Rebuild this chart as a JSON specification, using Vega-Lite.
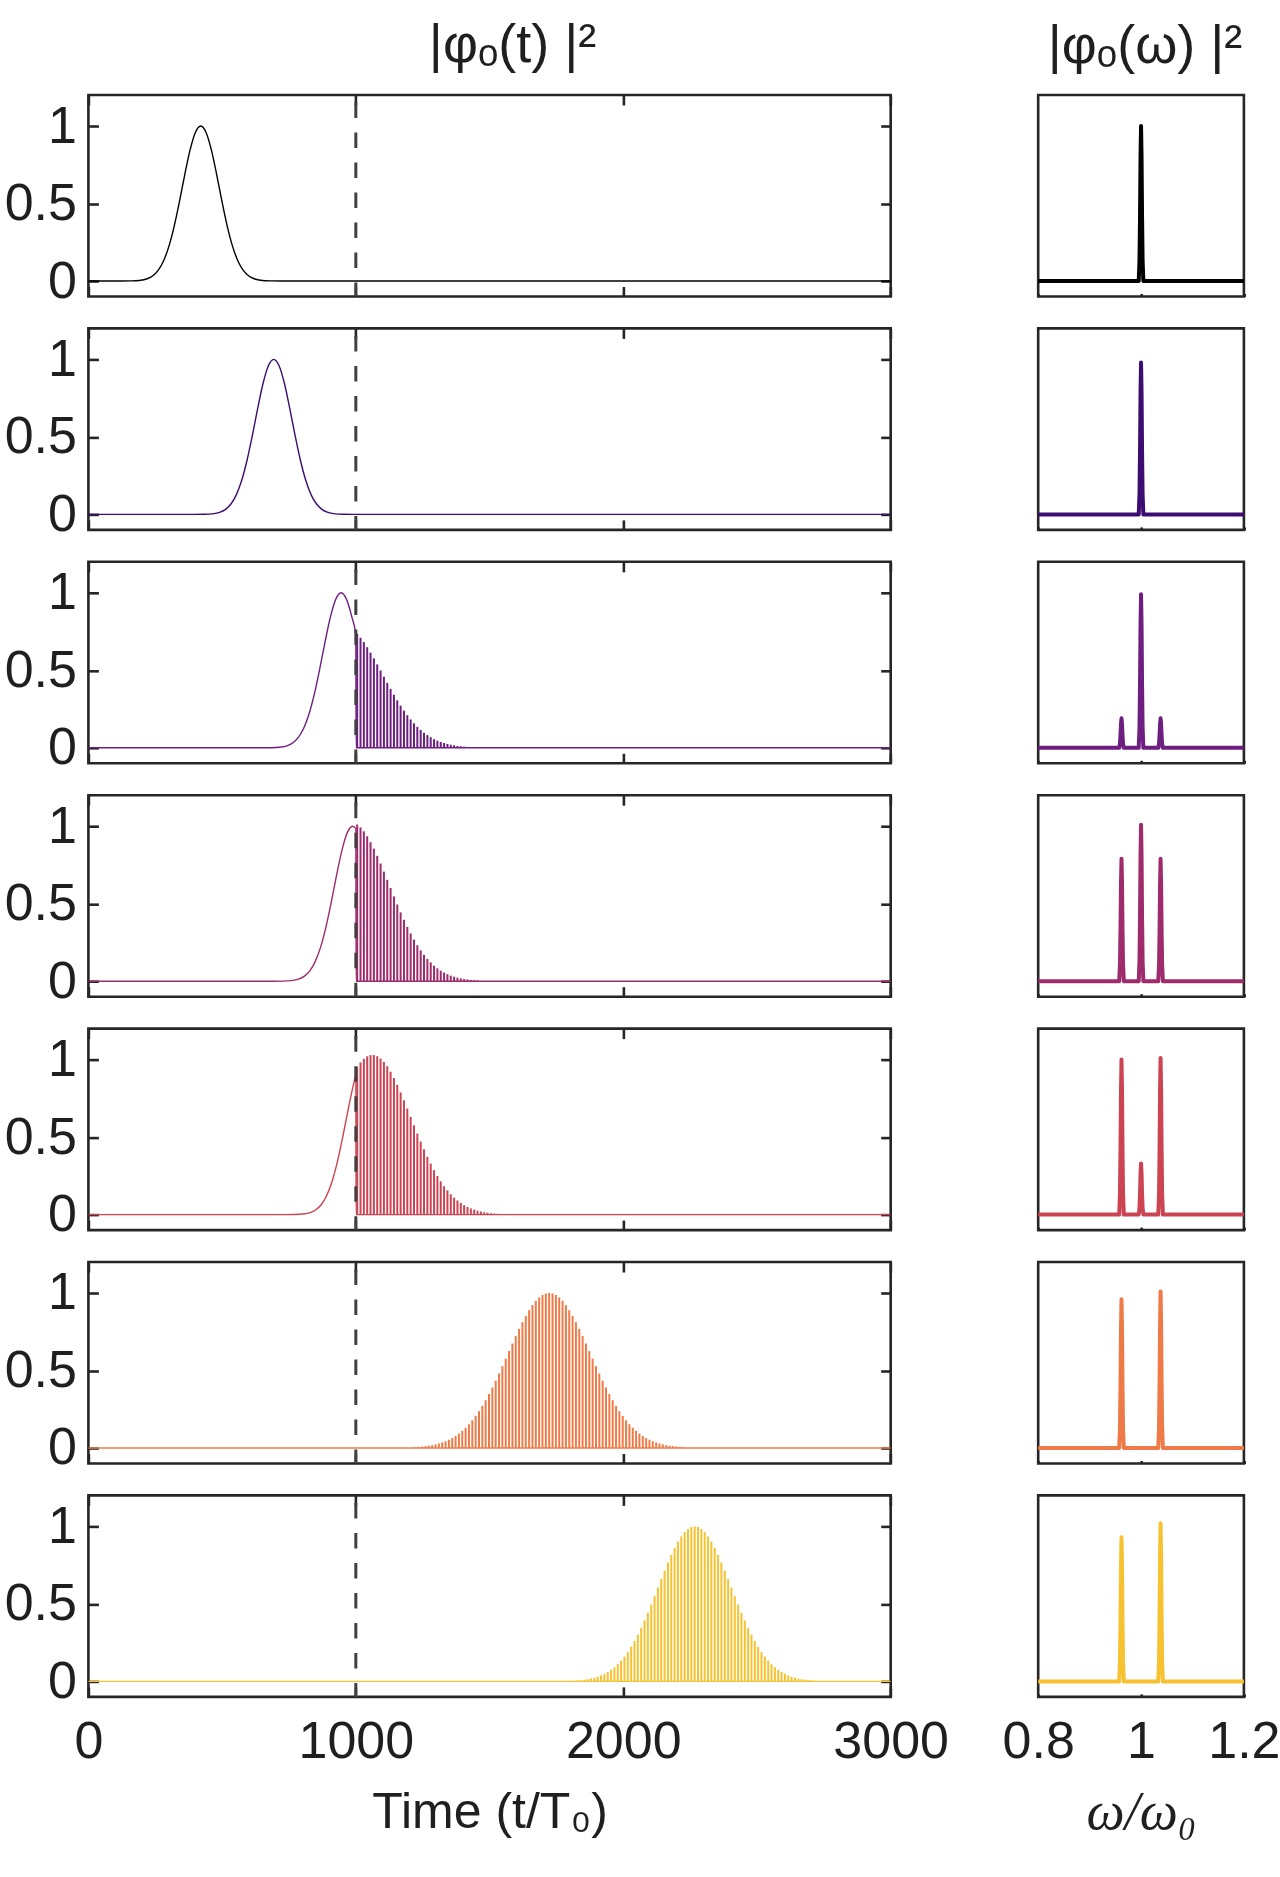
{
  "$schema": "https://vega.github.io/schema/vega-lite/v6.json",
  "background": "white",
  "padding": {"left": 2.4, "top": 17, "right": 0, "bottom": 0},
  "datasets": {
    "time": [
      {"p":1,"t":0,"y":0},{"p":1,"t":120,"y":0},{"p":1,"t":160,"y":0.0008},{"p":1,"t":190,"y":0.0037},{"p":1,"t":220,"y":0.0146},{"p":1,"t":240,"y":0.0326},{"p":1,"t":260,"y":0.0669},{"p":1,"t":280,"y":0.1261},{"p":1,"t":300,"y":0.2184},{"p":1,"t":320,"y":0.3477},{"p":1,"t":340,"y":0.5086},{"p":1,"t":360,"y":0.6837},{"p":1,"t":380,"y":0.8445},{"p":1,"t":400,"y":0.9586},{"p":1,"t":420,"y":1},{"p":1,"t":440,"y":0.9586},{"p":1,"t":460,"y":0.8445},{"p":1,"t":480,"y":0.6837},{"p":1,"t":500,"y":0.5086},{"p":1,"t":520,"y":0.3477},{"p":1,"t":540,"y":0.2184},{"p":1,"t":560,"y":0.1261},{"p":1,"t":580,"y":0.0669},{"p":1,"t":600,"y":0.0326},{"p":1,"t":620,"y":0.0146},{"p":1,"t":650,"y":0.0037},{"p":1,"t":680,"y":0.0008},{"p":1,"t":720,"y":0},{"p":1,"t":3000,"y":0},
      {"p":2,"t":0,"y":0},{"p":2,"t":393,"y":0},{"p":2,"t":433,"y":0.0008},{"p":2,"t":463,"y":0.0037},{"p":2,"t":493,"y":0.0146},{"p":2,"t":513,"y":0.0326},{"p":2,"t":533,"y":0.0669},{"p":2,"t":553,"y":0.1261},{"p":2,"t":573,"y":0.2184},{"p":2,"t":593,"y":0.3477},{"p":2,"t":613,"y":0.5086},{"p":2,"t":633,"y":0.6837},{"p":2,"t":653,"y":0.8445},{"p":2,"t":673,"y":0.9586},{"p":2,"t":693,"y":1},{"p":2,"t":713,"y":0.9586},{"p":2,"t":733,"y":0.8445},{"p":2,"t":753,"y":0.6837},{"p":2,"t":773,"y":0.5086},{"p":2,"t":793,"y":0.3477},{"p":2,"t":813,"y":0.2184},{"p":2,"t":833,"y":0.1261},{"p":2,"t":853,"y":0.0669},{"p":2,"t":873,"y":0.0326},{"p":2,"t":893,"y":0.0146},{"p":2,"t":923,"y":0.0037},{"p":2,"t":953,"y":0.0008},{"p":2,"t":993,"y":0},{"p":2,"t":3000,"y":0},
      {"p":3,"t":0,"y":0},{"p":3,"t":645,"y":0},{"p":3,"t":685,"y":0.0008},{"p":3,"t":715,"y":0.0037},{"p":3,"t":745,"y":0.0146},{"p":3,"t":765,"y":0.0326},{"p":3,"t":785,"y":0.0669},{"p":3,"t":805,"y":0.1261},{"p":3,"t":825,"y":0.2184},{"p":3,"t":845,"y":0.3477},{"p":3,"t":865,"y":0.5086},{"p":3,"t":885,"y":0.6837},{"p":3,"t":905,"y":0.8445},{"p":3,"t":925,"y":0.9586},{"p":3,"t":945,"y":1},{"p":3,"t":965,"y":0.9586},{"p":3,"t":985,"y":0.8445},{"p":3,"t":1000,"y":0.7265},{"p":3,"t":1001,"y":0},{"p":3,"t":3000,"y":0},
      {"p":4,"t":0,"y":0},{"p":4,"t":688,"y":0},{"p":4,"t":728,"y":0.0008},{"p":4,"t":758,"y":0.0037},{"p":4,"t":788,"y":0.0146},{"p":4,"t":808,"y":0.0326},{"p":4,"t":828,"y":0.0669},{"p":4,"t":848,"y":0.1261},{"p":4,"t":868,"y":0.2184},{"p":4,"t":888,"y":0.3477},{"p":4,"t":908,"y":0.5086},{"p":4,"t":928,"y":0.6837},{"p":4,"t":948,"y":0.8445},{"p":4,"t":968,"y":0.9586},{"p":4,"t":988,"y":1},{"p":4,"t":1000,"y":0.985},{"p":4,"t":1001,"y":0},{"p":4,"t":3000,"y":0},
      {"p":5,"t":0,"y":0},{"p":5,"t":732,"y":0},{"p":5,"t":772,"y":0.0008},{"p":5,"t":802,"y":0.0037},{"p":5,"t":832,"y":0.0146},{"p":5,"t":852,"y":0.0326},{"p":5,"t":872,"y":0.0669},{"p":5,"t":892,"y":0.1261},{"p":5,"t":912,"y":0.2184},{"p":5,"t":932,"y":0.3477},{"p":5,"t":952,"y":0.5086},{"p":5,"t":972,"y":0.6837},{"p":5,"t":992,"y":0.8445},{"p":5,"t":1000,"y":0.8974},{"p":5,"t":1001,"y":0},{"p":5,"t":3000,"y":0},
      {"p":6,"t":0,"y":0},{"p":6,"t":3000,"y":0},
      {"p":7,"t":0,"y":0},{"p":7,"t":3000,"y":0}
    ],
    "osc": [
      {"p":3,"t":1005,"y":0.735},{"p":3,"t":1017.5,"y":0.71},{"p":3,"t":1030,"y":0.682},{"p":3,"t":1042.5,"y":0.649},{"p":3,"t":1055,"y":0.614},{"p":3,"t":1067.5,"y":0.577},{"p":3,"t":1080,"y":0.538},{"p":3,"t":1092.5,"y":0.499},{"p":3,"t":1105,"y":0.459},{"p":3,"t":1117.5,"y":0.419},{"p":3,"t":1130,"y":0.38},{"p":3,"t":1142.5,"y":0.342},{"p":3,"t":1155,"y":0.306},{"p":3,"t":1167.5,"y":0.272},{"p":3,"t":1180,"y":0.24},{"p":3,"t":1192.5,"y":0.21},{"p":3,"t":1205,"y":0.183},{"p":3,"t":1217.5,"y":0.158},{"p":3,"t":1230,"y":0.135},{"p":3,"t":1242.5,"y":0.115},{"p":3,"t":1255,"y":0.097},{"p":3,"t":1267.5,"y":0.082},{"p":3,"t":1280,"y":0.068},{"p":3,"t":1292.5,"y":0.056},{"p":3,"t":1305,"y":0.046},{"p":3,"t":1317.5,"y":0.038},{"p":3,"t":1330,"y":0.031},{"p":3,"t":1342.5,"y":0.025},{"p":3,"t":1355,"y":0.02},{"p":3,"t":1367.5,"y":0.016},{"p":3,"t":1380,"y":0.012},{"p":3,"t":1392.5,"y":0.0097},{"p":3,"t":1405,"y":0.0075},{"p":3,"t":1417.5,"y":0.0058},{"p":3,"t":1430,"y":0.0045},
      {"p":4,"t":1005,"y":1.011},{"p":4,"t":1017.5,"y":0.992},{"p":4,"t":1030,"y":0.967},{"p":4,"t":1042.5,"y":0.935},{"p":4,"t":1055,"y":0.897},{"p":4,"t":1067.5,"y":0.855},{"p":4,"t":1080,"y":0.809},{"p":4,"t":1092.5,"y":0.759},{"p":4,"t":1105,"y":0.707},{"p":4,"t":1117.5,"y":0.654},{"p":4,"t":1130,"y":0.601},{"p":4,"t":1142.5,"y":0.547},{"p":4,"t":1155,"y":0.495},{"p":4,"t":1167.5,"y":0.444},{"p":4,"t":1180,"y":0.396},{"p":4,"t":1192.5,"y":0.35},{"p":4,"t":1205,"y":0.308},{"p":4,"t":1217.5,"y":0.268},{"p":4,"t":1230,"y":0.232},{"p":4,"t":1242.5,"y":0.199},{"p":4,"t":1255,"y":0.17},{"p":4,"t":1267.5,"y":0.144},{"p":4,"t":1280,"y":0.121},{"p":4,"t":1292.5,"y":0.1},{"p":4,"t":1305,"y":0.083},{"p":4,"t":1317.5,"y":0.068},{"p":4,"t":1330,"y":0.056},{"p":4,"t":1342.5,"y":0.045},{"p":4,"t":1355,"y":0.036},{"p":4,"t":1367.5,"y":0.029},{"p":4,"t":1380,"y":0.023},{"p":4,"t":1392.5,"y":0.018},{"p":4,"t":1405,"y":0.014},{"p":4,"t":1417.5,"y":0.011},{"p":4,"t":1430,"y":0.0083},{"p":4,"t":1442.5,"y":0.0063},{"p":4,"t":1455,"y":0.0048},
      {"p":5,"t":1005,"y":0.953},{"p":5,"t":1017.5,"y":0.982},{"p":5,"t":1030,"y":1.005},{"p":5,"t":1042.5,"y":1.021},{"p":5,"t":1055,"y":1.029},{"p":5,"t":1067.5,"y":1.029},{"p":5,"t":1080,"y":1.022},{"p":5,"t":1092.5,"y":1.007},{"p":5,"t":1105,"y":0.985},{"p":5,"t":1117.5,"y":0.957},{"p":5,"t":1130,"y":0.922},{"p":5,"t":1142.5,"y":0.881},{"p":5,"t":1155,"y":0.837},{"p":5,"t":1167.5,"y":0.788},{"p":5,"t":1180,"y":0.737},{"p":5,"t":1192.5,"y":0.684},{"p":5,"t":1205,"y":0.63},{"p":5,"t":1217.5,"y":0.576},{"p":5,"t":1230,"y":0.523},{"p":5,"t":1242.5,"y":0.471},{"p":5,"t":1255,"y":0.421},{"p":5,"t":1267.5,"y":0.373},{"p":5,"t":1280,"y":0.329},{"p":5,"t":1292.5,"y":0.287},{"p":5,"t":1305,"y":0.249},{"p":5,"t":1317.5,"y":0.215},{"p":5,"t":1330,"y":0.183},{"p":5,"t":1342.5,"y":0.156},{"p":5,"t":1355,"y":0.131},{"p":5,"t":1367.5,"y":0.109},{"p":5,"t":1380,"y":0.091},{"p":5,"t":1392.5,"y":0.075},{"p":5,"t":1405,"y":0.061},{"p":5,"t":1417.5,"y":0.049},{"p":5,"t":1430,"y":0.04},{"p":5,"t":1442.5,"y":0.032},{"p":5,"t":1455,"y":0.025},{"p":5,"t":1467.5,"y":0.02},{"p":5,"t":1480,"y":0.015},{"p":5,"t":1492.5,"y":0.012},{"p":5,"t":1505,"y":0.0092},{"p":5,"t":1517.5,"y":0.007},{"p":5,"t":1530,"y":0.0053},
      {"p":6,"t":1223,"y":0.0054},{"p":6,"t":1235.5,"y":0.0071},{"p":6,"t":1248,"y":0.0091},{"p":6,"t":1260.5,"y":0.0116},{"p":6,"t":1273,"y":0.0147},{"p":6,"t":1285.5,"y":0.0185},{"p":6,"t":1298,"y":0.0231},{"p":6,"t":1310.5,"y":0.0288},{"p":6,"t":1323,"y":0.0356},{"p":6,"t":1335.5,"y":0.0437},{"p":6,"t":1348,"y":0.0533},{"p":6,"t":1360.5,"y":0.0646},{"p":6,"t":1373,"y":0.0778},{"p":6,"t":1385.5,"y":0.093},{"p":6,"t":1398,"y":0.1105},{"p":6,"t":1410.5,"y":0.1305},{"p":6,"t":1423,"y":0.1531},{"p":6,"t":1435.5,"y":0.1785},{"p":6,"t":1448,"y":0.2066},{"p":6,"t":1460.5,"y":0.2377},{"p":6,"t":1473,"y":0.2717},{"p":6,"t":1485.5,"y":0.3085},{"p":6,"t":1498,"y":0.348},{"p":6,"t":1510.5,"y":0.3901},{"p":6,"t":1523,"y":0.4343},{"p":6,"t":1535.5,"y":0.4805},{"p":6,"t":1548,"y":0.5281},{"p":6,"t":1560.5,"y":0.5766},{"p":6,"t":1573,"y":0.6256},{"p":6,"t":1585.5,"y":0.6742},{"p":6,"t":1598,"y":0.722},{"p":6,"t":1610.5,"y":0.7681},{"p":6,"t":1623,"y":0.8118},{"p":6,"t":1635.5,"y":0.8525},{"p":6,"t":1648,"y":0.8893},{"p":6,"t":1660.5,"y":0.9218},{"p":6,"t":1673,"y":0.9492},{"p":6,"t":1685.5,"y":0.9711},{"p":6,"t":1698,"y":0.9871},{"p":6,"t":1710.5,"y":0.9967},{"p":6,"t":1723,"y":1},{"p":6,"t":1735.5,"y":0.9967},{"p":6,"t":1748,"y":0.9871},{"p":6,"t":1760.5,"y":0.9711},{"p":6,"t":1773,"y":0.9492},{"p":6,"t":1785.5,"y":0.9218},{"p":6,"t":1798,"y":0.8893},{"p":6,"t":1810.5,"y":0.8525},{"p":6,"t":1823,"y":0.8118},{"p":6,"t":1835.5,"y":0.7681},{"p":6,"t":1848,"y":0.722},{"p":6,"t":1860.5,"y":0.6742},{"p":6,"t":1873,"y":0.6256},{"p":6,"t":1885.5,"y":0.5766},{"p":6,"t":1898,"y":0.5281},{"p":6,"t":1910.5,"y":0.4805},{"p":6,"t":1923,"y":0.4343},{"p":6,"t":1935.5,"y":0.3901},{"p":6,"t":1948,"y":0.348},{"p":6,"t":1960.5,"y":0.3085},{"p":6,"t":1973,"y":0.2717},{"p":6,"t":1985.5,"y":0.2377},{"p":6,"t":1998,"y":0.2066},{"p":6,"t":2010.5,"y":0.1785},{"p":6,"t":2023,"y":0.1531},{"p":6,"t":2035.5,"y":0.1305},{"p":6,"t":2048,"y":0.1105},{"p":6,"t":2060.5,"y":0.093},{"p":6,"t":2073,"y":0.0778},{"p":6,"t":2085.5,"y":0.0646},{"p":6,"t":2098,"y":0.0533},{"p":6,"t":2110.5,"y":0.0437},{"p":6,"t":2123,"y":0.0356},{"p":6,"t":2135.5,"y":0.0288},{"p":6,"t":2148,"y":0.0231},{"p":6,"t":2160.5,"y":0.0185},{"p":6,"t":2173,"y":0.0147},{"p":6,"t":2185.5,"y":0.0116},{"p":6,"t":2198,"y":0.0091},{"p":6,"t":2210.5,"y":0.0071},{"p":6,"t":2223,"y":0.0054},
      {"p":7,"t":1817,"y":0.0046},{"p":7,"t":1829.5,"y":0.0062},{"p":7,"t":1842,"y":0.0082},{"p":7,"t":1854.5,"y":0.0109},{"p":7,"t":1867,"y":0.0142},{"p":7,"t":1879.5,"y":0.0185},{"p":7,"t":1892,"y":0.0238},{"p":7,"t":1904.5,"y":0.0305},{"p":7,"t":1917,"y":0.0386},{"p":7,"t":1929.5,"y":0.0485},{"p":7,"t":1942,"y":0.0604},{"p":7,"t":1954.5,"y":0.0747},{"p":7,"t":1967,"y":0.0915},{"p":7,"t":1979.5,"y":0.1112},{"p":7,"t":1992,"y":0.1341},{"p":7,"t":2004.5,"y":0.1603},{"p":7,"t":2017,"y":0.19},{"p":7,"t":2029.5,"y":0.2234},{"p":7,"t":2042,"y":0.2605},{"p":7,"t":2054.5,"y":0.3012},{"p":7,"t":2067,"y":0.3455},{"p":7,"t":2079.5,"y":0.3929},{"p":7,"t":2092,"y":0.4432},{"p":7,"t":2104.5,"y":0.4958},{"p":7,"t":2117,"y":0.55},{"p":7,"t":2129.5,"y":0.6051},{"p":7,"t":2142,"y":0.6602},{"p":7,"t":2154.5,"y":0.7144},{"p":7,"t":2167,"y":0.7667},{"p":7,"t":2179.5,"y":0.8159},{"p":7,"t":2192,"y":0.8612},{"p":7,"t":2204.5,"y":0.9014},{"p":7,"t":2217,"y":0.9357},{"p":7,"t":2229.5,"y":0.9633},{"p":7,"t":2242,"y":0.9835},{"p":7,"t":2254.5,"y":0.9959},{"p":7,"t":2267,"y":1},{"p":7,"t":2279.5,"y":0.9959},{"p":7,"t":2292,"y":0.9835},{"p":7,"t":2304.5,"y":0.9633},{"p":7,"t":2317,"y":0.9357},{"p":7,"t":2329.5,"y":0.9014},{"p":7,"t":2342,"y":0.8612},{"p":7,"t":2354.5,"y":0.8159},{"p":7,"t":2367,"y":0.7667},{"p":7,"t":2379.5,"y":0.7144},{"p":7,"t":2392,"y":0.6602},{"p":7,"t":2404.5,"y":0.6051},{"p":7,"t":2417,"y":0.55},{"p":7,"t":2429.5,"y":0.4958},{"p":7,"t":2442,"y":0.4432},{"p":7,"t":2454.5,"y":0.3929},{"p":7,"t":2467,"y":0.3455},{"p":7,"t":2479.5,"y":0.3012},{"p":7,"t":2492,"y":0.2605},{"p":7,"t":2504.5,"y":0.2234},{"p":7,"t":2517,"y":0.19},{"p":7,"t":2529.5,"y":0.1603},{"p":7,"t":2542,"y":0.1341},{"p":7,"t":2554.5,"y":0.1112},{"p":7,"t":2567,"y":0.0915},{"p":7,"t":2579.5,"y":0.0747},{"p":7,"t":2592,"y":0.0604},{"p":7,"t":2604.5,"y":0.0485},{"p":7,"t":2617,"y":0.0386},{"p":7,"t":2629.5,"y":0.0305},{"p":7,"t":2642,"y":0.0238},{"p":7,"t":2654.5,"y":0.0185},{"p":7,"t":2667,"y":0.0142},{"p":7,"t":2679.5,"y":0.0109},{"p":7,"t":2692,"y":0.0082},{"p":7,"t":2704.5,"y":0.0062},{"p":7,"t":2717,"y":0.0046}
    ],
    "spec": [
      {"p":1,"w":0.8,"y":0},{"p":1,"w":0.9955,"y":0},{"p":1,"w":0.997,"y":0.135},{"p":1,"w":0.998,"y":0.41},{"p":1,"w":0.999,"y":0.8},{"p":1,"w":1,"y":1},{"p":1,"w":1.001,"y":0.8},{"p":1,"w":1.002,"y":0.41},{"p":1,"w":1.003,"y":0.135},{"p":1,"w":1.0045,"y":0},{"p":1,"w":1.2,"y":0},
      {"p":2,"w":0.8,"y":0},{"p":2,"w":0.9955,"y":0},{"p":2,"w":0.997,"y":0.132},{"p":2,"w":0.998,"y":0.402},{"p":2,"w":0.999,"y":0.784},{"p":2,"w":1,"y":0.98},{"p":2,"w":1.001,"y":0.784},{"p":2,"w":1.002,"y":0.402},{"p":2,"w":1.003,"y":0.132},{"p":2,"w":1.0045,"y":0},{"p":2,"w":1.2,"y":0},
      {"p":3,"w":0.8,"y":0},{"p":3,"w":0.9575,"y":0},{"p":3,"w":0.959,"y":0.026},{"p":3,"w":0.96,"y":0.078},{"p":3,"w":0.961,"y":0.152},{"p":3,"w":0.962,"y":0.19},{"p":3,"w":0.963,"y":0.152},{"p":3,"w":0.964,"y":0.078},{"p":3,"w":0.965,"y":0.026},{"p":3,"w":0.9665,"y":0},{"p":3,"w":0.9955,"y":0},{"p":3,"w":0.997,"y":0.134},{"p":3,"w":0.998,"y":0.406},{"p":3,"w":0.999,"y":0.792},{"p":3,"w":1,"y":0.99},{"p":3,"w":1.001,"y":0.792},{"p":3,"w":1.002,"y":0.406},{"p":3,"w":1.003,"y":0.134},{"p":3,"w":1.0045,"y":0},{"p":3,"w":1.0335,"y":0},{"p":3,"w":1.035,"y":0.026},{"p":3,"w":1.036,"y":0.078},{"p":3,"w":1.037,"y":0.152},{"p":3,"w":1.038,"y":0.19},{"p":3,"w":1.039,"y":0.152},{"p":3,"w":1.04,"y":0.078},{"p":3,"w":1.041,"y":0.026},{"p":3,"w":1.0425,"y":0},{"p":3,"w":1.2,"y":0},
      {"p":4,"w":0.8,"y":0},{"p":4,"w":0.9575,"y":0},{"p":4,"w":0.959,"y":0.107},{"p":4,"w":0.96,"y":0.324},{"p":4,"w":0.961,"y":0.632},{"p":4,"w":0.962,"y":0.79},{"p":4,"w":0.963,"y":0.632},{"p":4,"w":0.964,"y":0.324},{"p":4,"w":0.965,"y":0.107},{"p":4,"w":0.9665,"y":0},{"p":4,"w":0.9955,"y":0},{"p":4,"w":0.997,"y":0.136},{"p":4,"w":0.998,"y":0.414},{"p":4,"w":0.999,"y":0.808},{"p":4,"w":1,"y":1.01},{"p":4,"w":1.001,"y":0.808},{"p":4,"w":1.002,"y":0.414},{"p":4,"w":1.003,"y":0.136},{"p":4,"w":1.0045,"y":0},{"p":4,"w":1.0335,"y":0},{"p":4,"w":1.035,"y":0.107},{"p":4,"w":1.036,"y":0.324},{"p":4,"w":1.037,"y":0.632},{"p":4,"w":1.038,"y":0.79},{"p":4,"w":1.039,"y":0.632},{"p":4,"w":1.04,"y":0.324},{"p":4,"w":1.041,"y":0.107},{"p":4,"w":1.0425,"y":0},{"p":4,"w":1.2,"y":0},
      {"p":5,"w":0.8,"y":0},{"p":5,"w":0.9575,"y":0},{"p":5,"w":0.959,"y":0.135},{"p":5,"w":0.96,"y":0.41},{"p":5,"w":0.961,"y":0.8},{"p":5,"w":0.962,"y":1},{"p":5,"w":0.963,"y":0.8},{"p":5,"w":0.964,"y":0.41},{"p":5,"w":0.965,"y":0.135},{"p":5,"w":0.9665,"y":0},{"p":5,"w":0.9955,"y":0},{"p":5,"w":0.997,"y":0.045},{"p":5,"w":0.998,"y":0.135},{"p":5,"w":0.999,"y":0.264},{"p":5,"w":1,"y":0.33},{"p":5,"w":1.001,"y":0.264},{"p":5,"w":1.002,"y":0.135},{"p":5,"w":1.003,"y":0.045},{"p":5,"w":1.0045,"y":0},{"p":5,"w":1.0335,"y":0},{"p":5,"w":1.035,"y":0.136},{"p":5,"w":1.036,"y":0.414},{"p":5,"w":1.037,"y":0.808},{"p":5,"w":1.038,"y":1.01},{"p":5,"w":1.039,"y":0.808},{"p":5,"w":1.04,"y":0.414},{"p":5,"w":1.041,"y":0.136},{"p":5,"w":1.0425,"y":0},{"p":5,"w":1.2,"y":0},
      {"p":6,"w":0.8,"y":0},{"p":6,"w":0.9575,"y":0},{"p":6,"w":0.959,"y":0.13},{"p":6,"w":0.96,"y":0.394},{"p":6,"w":0.961,"y":0.768},{"p":6,"w":0.962,"y":0.96},{"p":6,"w":0.963,"y":0.768},{"p":6,"w":0.964,"y":0.394},{"p":6,"w":0.965,"y":0.13},{"p":6,"w":0.9665,"y":0},{"p":6,"w":1.0335,"y":0},{"p":6,"w":1.035,"y":0.136},{"p":6,"w":1.036,"y":0.414},{"p":6,"w":1.037,"y":0.808},{"p":6,"w":1.038,"y":1.01},{"p":6,"w":1.039,"y":0.808},{"p":6,"w":1.04,"y":0.414},{"p":6,"w":1.041,"y":0.136},{"p":6,"w":1.0425,"y":0},{"p":6,"w":1.2,"y":0},
      {"p":7,"w":0.8,"y":0},{"p":7,"w":0.9575,"y":0},{"p":7,"w":0.959,"y":0.126},{"p":7,"w":0.96,"y":0.381},{"p":7,"w":0.961,"y":0.744},{"p":7,"w":0.962,"y":0.93},{"p":7,"w":0.963,"y":0.744},{"p":7,"w":0.964,"y":0.381},{"p":7,"w":0.965,"y":0.126},{"p":7,"w":0.9665,"y":0},{"p":7,"w":1.0335,"y":0},{"p":7,"w":1.035,"y":0.138},{"p":7,"w":1.036,"y":0.418},{"p":7,"w":1.037,"y":0.816},{"p":7,"w":1.038,"y":1.02},{"p":7,"w":1.039,"y":0.816},{"p":7,"w":1.04,"y":0.418},{"p":7,"w":1.041,"y":0.138},{"p":7,"w":1.0425,"y":0},{"p":7,"w":1.2,"y":0}
    ],
    "marker": [{"t": 1000}]
  },
  "spacing": 49.8,
  "hconcat": [
    {
      "spacing": 31.4,
      "bounds": "flush",
      "vconcat": [
        {"width": 802.3, "height": 201.5, "title": {"text": "|φₒ(t) |²", "dx": 23, "offset": -22, "baseline": "alphabetic", "frame": "group"}, "resolve": {"axis": {"x": "independent", "y": "independent"}}, "layer": [
          {"data": {"name": "time"}, "transform": [{"filter": "datum.p == 1"}], "mark": {"type": "line", "color": "#000000", "strokeWidth": 1.4, "interpolate": "monotone", "clip": true},
           "encoding": {"x": {"field": "t", "type": "quantitative", "scale": {"domain": [0, 3000], "nice": false}, "axis": {"orient": "bottom", "values": [0, 1000, 2000, 3000], "labels": false, "title": null, "tickSize": -10}},
                        "y": {"field": "y", "type": "quantitative", "scale": {"domain": [-0.1, 1.2], "nice": false, "zero": false}, "axis": {"orient": "left", "values": [0, 0.5, 1], "format": "~g", "tickSize": -10, "labelPadding": 22, "title": null}}}},
          {"data": {"name": "marker"}, "mark": {"type": "rule", "color": "#404040", "strokeWidth": 3, "strokeDash": [15.5, 14.5], "strokeDashOffset": 22.4},
           "encoding": {"x": {"field": "t", "type": "quantitative", "axis": {"orient": "top", "values": [0, 1000, 2000, 3000], "labels": false, "title": null, "tickSize": -10}},
                        "y": {"datum": 1.2, "type": "quantitative", "axis": {"orient": "right", "values": [0, 0.5, 1], "labels": false, "title": null, "tickSize": -10}}, "y2": {"datum": -0.1}}}
        ]},
        {"width": 802.3, "height": 201.5, "resolve": {"axis": {"x": "independent", "y": "independent"}}, "layer": [
          {"data": {"name": "time"}, "transform": [{"filter": "datum.p == 2"}], "mark": {"type": "line", "color": "#3d0c70", "strokeWidth": 1.4, "interpolate": "monotone", "clip": true},
           "encoding": {"x": {"field": "t", "type": "quantitative", "scale": {"domain": [0, 3000], "nice": false}, "axis": {"orient": "bottom", "values": [0, 1000, 2000, 3000], "labels": false, "title": null, "tickSize": -10}},
                        "y": {"field": "y", "type": "quantitative", "scale": {"domain": [-0.1, 1.2], "nice": false, "zero": false}, "axis": {"orient": "left", "values": [0, 0.5, 1], "format": "~g", "tickSize": -10, "labelPadding": 22, "title": null}}}},
          {"data": {"name": "marker"}, "mark": {"type": "rule", "color": "#404040", "strokeWidth": 3, "strokeDash": [15.5, 14.5], "strokeDashOffset": 22.4},
           "encoding": {"x": {"field": "t", "type": "quantitative", "axis": {"orient": "top", "values": [0, 1000, 2000, 3000], "labels": false, "title": null, "tickSize": -10}},
                        "y": {"datum": 1.2, "type": "quantitative", "axis": {"orient": "right", "values": [0, 0.5, 1], "labels": false, "title": null, "tickSize": -10}}, "y2": {"datum": -0.1}}}
        ]},
        {"width": 802.3, "height": 201.5, "resolve": {"axis": {"x": "independent", "y": "independent"}}, "layer": [
          {"data": {"name": "time"}, "transform": [{"filter": "datum.p == 3"}], "mark": {"type": "line", "color": "#6e1e80", "strokeWidth": 1.4, "interpolate": "monotone", "clip": true},
           "encoding": {"x": {"field": "t", "type": "quantitative", "scale": {"domain": [0, 3000], "nice": false}, "axis": {"orient": "bottom", "values": [0, 1000, 2000, 3000], "labels": false, "title": null, "tickSize": -10}},
                        "y": {"field": "y", "type": "quantitative", "scale": {"domain": [-0.1, 1.2], "nice": false, "zero": false}, "axis": {"orient": "left", "values": [0, 0.5, 1], "format": "~g", "tickSize": -10, "labelPadding": 22, "title": null}}}},
          {"data": {"name": "osc"}, "transform": [{"filter": "datum.p == 3"}], "mark": {"type": "rule", "color": "#6e1e80", "strokeWidth": 2},
           "encoding": {"x": {"field": "t", "type": "quantitative", "axis": null}, "y": {"field": "y", "type": "quantitative", "axis": null}, "y2": {"datum": 0}}},
          {"data": {"name": "marker"}, "mark": {"type": "rule", "color": "#404040", "strokeWidth": 3, "strokeDash": [15.5, 14.5], "strokeDashOffset": 22.4},
           "encoding": {"x": {"field": "t", "type": "quantitative", "axis": {"orient": "top", "values": [0, 1000, 2000, 3000], "labels": false, "title": null, "tickSize": -10}},
                        "y": {"datum": 1.2, "type": "quantitative", "axis": {"orient": "right", "values": [0, 0.5, 1], "labels": false, "title": null, "tickSize": -10}}, "y2": {"datum": -0.1}}}
        ]},
        {"width": 802.3, "height": 201.5, "resolve": {"axis": {"x": "independent", "y": "independent"}}, "layer": [
          {"data": {"name": "time"}, "transform": [{"filter": "datum.p == 4"}], "mark": {"type": "line", "color": "#9e2b6b", "strokeWidth": 1.4, "interpolate": "monotone", "clip": true},
           "encoding": {"x": {"field": "t", "type": "quantitative", "scale": {"domain": [0, 3000], "nice": false}, "axis": {"orient": "bottom", "values": [0, 1000, 2000, 3000], "labels": false, "title": null, "tickSize": -10}},
                        "y": {"field": "y", "type": "quantitative", "scale": {"domain": [-0.1, 1.2], "nice": false, "zero": false}, "axis": {"orient": "left", "values": [0, 0.5, 1], "format": "~g", "tickSize": -10, "labelPadding": 22, "title": null}}}},
          {"data": {"name": "osc"}, "transform": [{"filter": "datum.p == 4"}], "mark": {"type": "rule", "color": "#9e2b6b", "strokeWidth": 2},
           "encoding": {"x": {"field": "t", "type": "quantitative", "axis": null}, "y": {"field": "y", "type": "quantitative", "axis": null}, "y2": {"datum": 0}}},
          {"data": {"name": "marker"}, "mark": {"type": "rule", "color": "#404040", "strokeWidth": 3, "strokeDash": [15.5, 14.5], "strokeDashOffset": 22.4},
           "encoding": {"x": {"field": "t", "type": "quantitative", "axis": {"orient": "top", "values": [0, 1000, 2000, 3000], "labels": false, "title": null, "tickSize": -10}},
                        "y": {"datum": 1.2, "type": "quantitative", "axis": {"orient": "right", "values": [0, 0.5, 1], "labels": false, "title": null, "tickSize": -10}}, "y2": {"datum": -0.1}}}
        ]},
        {"width": 802.3, "height": 201.5, "resolve": {"axis": {"x": "independent", "y": "independent"}}, "layer": [
          {"data": {"name": "time"}, "transform": [{"filter": "datum.p == 5"}], "mark": {"type": "line", "color": "#cc4452", "strokeWidth": 1.4, "interpolate": "monotone", "clip": true},
           "encoding": {"x": {"field": "t", "type": "quantitative", "scale": {"domain": [0, 3000], "nice": false}, "axis": {"orient": "bottom", "values": [0, 1000, 2000, 3000], "labels": false, "title": null, "tickSize": -10}},
                        "y": {"field": "y", "type": "quantitative", "scale": {"domain": [-0.1, 1.2], "nice": false, "zero": false}, "axis": {"orient": "left", "values": [0, 0.5, 1], "format": "~g", "tickSize": -10, "labelPadding": 22, "title": null}}}},
          {"data": {"name": "osc"}, "transform": [{"filter": "datum.p == 5"}], "mark": {"type": "rule", "color": "#cc4452", "strokeWidth": 2},
           "encoding": {"x": {"field": "t", "type": "quantitative", "axis": null}, "y": {"field": "y", "type": "quantitative", "axis": null}, "y2": {"datum": 0}}},
          {"data": {"name": "marker"}, "mark": {"type": "rule", "color": "#404040", "strokeWidth": 3, "strokeDash": [15.5, 14.5], "strokeDashOffset": 22.4},
           "encoding": {"x": {"field": "t", "type": "quantitative", "axis": {"orient": "top", "values": [0, 1000, 2000, 3000], "labels": false, "title": null, "tickSize": -10}},
                        "y": {"datum": 1.2, "type": "quantitative", "axis": {"orient": "right", "values": [0, 0.5, 1], "labels": false, "title": null, "tickSize": -10}}, "y2": {"datum": -0.1}}}
        ]},
        {"width": 802.3, "height": 201.5, "resolve": {"axis": {"x": "independent", "y": "independent"}}, "layer": [
          {"data": {"name": "time"}, "transform": [{"filter": "datum.p == 6"}], "mark": {"type": "line", "color": "#ee7b47", "strokeWidth": 1.4, "clip": true},
           "encoding": {"x": {"field": "t", "type": "quantitative", "scale": {"domain": [0, 3000], "nice": false}, "axis": {"orient": "bottom", "values": [0, 1000, 2000, 3000], "labels": false, "title": null, "tickSize": -10}},
                        "y": {"field": "y", "type": "quantitative", "scale": {"domain": [-0.1, 1.2], "nice": false, "zero": false}, "axis": {"orient": "left", "values": [0, 0.5, 1], "format": "~g", "tickSize": -10, "labelPadding": 22, "title": null}}}},
          {"data": {"name": "osc"}, "transform": [{"filter": "datum.p == 6"}], "mark": {"type": "rule", "color": "#ee7b47", "strokeWidth": 2},
           "encoding": {"x": {"field": "t", "type": "quantitative", "axis": null}, "y": {"field": "y", "type": "quantitative", "axis": null}, "y2": {"datum": 0}}},
          {"data": {"name": "marker"}, "mark": {"type": "rule", "color": "#404040", "strokeWidth": 3, "strokeDash": [15.5, 14.5], "strokeDashOffset": 22.4},
           "encoding": {"x": {"field": "t", "type": "quantitative", "axis": {"orient": "top", "values": [0, 1000, 2000, 3000], "labels": false, "title": null, "tickSize": -10}},
                        "y": {"datum": 1.2, "type": "quantitative", "axis": {"orient": "right", "values": [0, 0.5, 1], "labels": false, "title": null, "tickSize": -10}}, "y2": {"datum": -0.1}}}
        ]},
        {"width": 802.3, "height": 201.5, "resolve": {"axis": {"x": "independent", "y": "independent"}}, "layer": [
          {"data": {"name": "time"}, "transform": [{"filter": "datum.p == 7"}], "mark": {"type": "line", "color": "#f6c231", "strokeWidth": 1.4, "clip": true},
           "encoding": {"x": {"field": "t", "type": "quantitative", "scale": {"domain": [0, 3000], "nice": false}, "axis": {"orient": "bottom", "values": [0, 1000, 2000, 3000], "format": "d", "labelPadding": 30, "title": "Time (t/T₀)", "titlePadding": 20, "tickSize": -10}},
                        "y": {"field": "y", "type": "quantitative", "scale": {"domain": [-0.1, 1.2], "nice": false, "zero": false}, "axis": {"orient": "left", "values": [0, 0.5, 1], "format": "~g", "tickSize": -10, "labelPadding": 22, "title": null}}}},
          {"data": {"name": "osc"}, "transform": [{"filter": "datum.p == 7"}], "mark": {"type": "rule", "color": "#f6c231", "strokeWidth": 2},
           "encoding": {"x": {"field": "t", "type": "quantitative", "axis": null}, "y": {"field": "y", "type": "quantitative", "axis": null}, "y2": {"datum": 0}}},
          {"data": {"name": "marker"}, "mark": {"type": "rule", "color": "#404040", "strokeWidth": 3, "strokeDash": [15.5, 14.5], "strokeDashOffset": 22.4},
           "encoding": {"x": {"field": "t", "type": "quantitative", "axis": {"orient": "top", "values": [0, 1000, 2000, 3000], "labels": false, "title": null, "tickSize": -10}},
                        "y": {"datum": 1.2, "type": "quantitative", "axis": {"orient": "right", "values": [0, 0.5, 1], "labels": false, "title": null, "tickSize": -10}}, "y2": {"datum": -0.1}}}
        ]}
      ]
    },
    {
      "spacing": 31.4,
      "bounds": "flush",
      "vconcat": [
        {"width": 205.7, "height": 201.5, "title": {"text": "|φₒ(ω) |²", "dx": 4, "offset": -22, "baseline": "alphabetic", "frame": "group"}, "data": {"name": "spec"}, "transform": [{"filter": "datum.p == 1"}],
         "mark": {"type": "line", "color": "#000000", "strokeWidth": 4, "strokeJoin": "round", "strokeCap": "round", "clip": true},
         "encoding": {"x": {"field": "w", "type": "quantitative", "scale": {"domain": [0.8, 1.2], "nice": false}, "axis": {"orient": "bottom", "values": [0.8, 1, 1.2], "labels": false, "title": null, "tickSize": -3}},
                      "y": {"field": "y", "type": "quantitative", "scale": {"domain": [-0.1, 1.2], "nice": false, "zero": false}, "axis": null}}},
        {"width": 205.7, "height": 201.5, "data": {"name": "spec"}, "transform": [{"filter": "datum.p == 2"}],
         "mark": {"type": "line", "color": "#3d0c70", "strokeWidth": 4, "strokeJoin": "round", "strokeCap": "round", "clip": true},
         "encoding": {"x": {"field": "w", "type": "quantitative", "scale": {"domain": [0.8, 1.2], "nice": false}, "axis": {"orient": "bottom", "values": [0.8, 1, 1.2], "labels": false, "title": null, "tickSize": -3}},
                      "y": {"field": "y", "type": "quantitative", "scale": {"domain": [-0.1, 1.2], "nice": false, "zero": false}, "axis": null}}},
        {"width": 205.7, "height": 201.5, "data": {"name": "spec"}, "transform": [{"filter": "datum.p == 3"}],
         "mark": {"type": "line", "color": "#6e1e80", "strokeWidth": 4, "strokeJoin": "round", "strokeCap": "round", "clip": true},
         "encoding": {"x": {"field": "w", "type": "quantitative", "scale": {"domain": [0.8, 1.2], "nice": false}, "axis": {"orient": "bottom", "values": [0.8, 1, 1.2], "labels": false, "title": null, "tickSize": -3}},
                      "y": {"field": "y", "type": "quantitative", "scale": {"domain": [-0.1, 1.2], "nice": false, "zero": false}, "axis": null}}},
        {"width": 205.7, "height": 201.5, "data": {"name": "spec"}, "transform": [{"filter": "datum.p == 4"}],
         "mark": {"type": "line", "color": "#9e2b6b", "strokeWidth": 4, "strokeJoin": "round", "strokeCap": "round", "clip": true},
         "encoding": {"x": {"field": "w", "type": "quantitative", "scale": {"domain": [0.8, 1.2], "nice": false}, "axis": {"orient": "bottom", "values": [0.8, 1, 1.2], "labels": false, "title": null, "tickSize": -3}},
                      "y": {"field": "y", "type": "quantitative", "scale": {"domain": [-0.1, 1.2], "nice": false, "zero": false}, "axis": null}}},
        {"width": 205.7, "height": 201.5, "data": {"name": "spec"}, "transform": [{"filter": "datum.p == 5"}],
         "mark": {"type": "line", "color": "#cc4452", "strokeWidth": 4, "strokeJoin": "round", "strokeCap": "round", "clip": true},
         "encoding": {"x": {"field": "w", "type": "quantitative", "scale": {"domain": [0.8, 1.2], "nice": false}, "axis": {"orient": "bottom", "values": [0.8, 1, 1.2], "labels": false, "title": null, "tickSize": -3}},
                      "y": {"field": "y", "type": "quantitative", "scale": {"domain": [-0.1, 1.2], "nice": false, "zero": false}, "axis": null}}},
        {"width": 205.7, "height": 201.5, "data": {"name": "spec"}, "transform": [{"filter": "datum.p == 6"}],
         "mark": {"type": "line", "color": "#ee7b47", "strokeWidth": 4, "strokeJoin": "round", "strokeCap": "round", "clip": true},
         "encoding": {"x": {"field": "w", "type": "quantitative", "scale": {"domain": [0.8, 1.2], "nice": false}, "axis": {"orient": "bottom", "values": [0.8, 1, 1.2], "labels": false, "title": null, "tickSize": -3}},
                      "y": {"field": "y", "type": "quantitative", "scale": {"domain": [-0.1, 1.2], "nice": false, "zero": false}, "axis": null}}},
        {"width": 205.7, "height": 201.5, "data": {"name": "spec"}, "transform": [{"filter": "datum.p == 7"}],
         "mark": {"type": "line", "color": "#f6c231", "strokeWidth": 4, "strokeJoin": "round", "strokeCap": "round", "clip": true},
         "encoding": {"x": {"field": "w", "type": "quantitative", "scale": {"domain": [0.8, 1.2], "nice": false}, "axis": {"orient": "bottom", "values": [0.8, 1, 1.2], "format": "~g", "labelPadding": 23, "title": "ω/ω₀", "titleFont": "Liberation Serif", "titleFontStyle": "italic", "titleFontSize": 54, "titlePadding": 18, "tickSize": -3}},
                      "y": {"field": "y", "type": "quantitative", "scale": {"domain": [-0.1, 1.2], "nice": false, "zero": false}, "axis": null}}}
      ]
    }
  ],
  "config": {
    "view": {"stroke": "#262626", "strokeWidth": 2.6},
    "axis": {"domain": false, "grid": false, "tickColor": "#262626", "tickWidth": 2.6, "labelFont": "Liberation Sans", "labelFontSize": 52, "labelColor": "#1f1f1f", "labelFlush": false, "labelOverlap": false, "titleFont": "Liberation Sans", "titleFontSize": 50, "titleFontWeight": "normal", "titleColor": "#1f1f1f"},
    "title": {"font": "Liberation Sans", "fontSize": 54, "fontWeight": "normal", "color": "#1f1f1f", "anchor": "middle"}
  }
}
